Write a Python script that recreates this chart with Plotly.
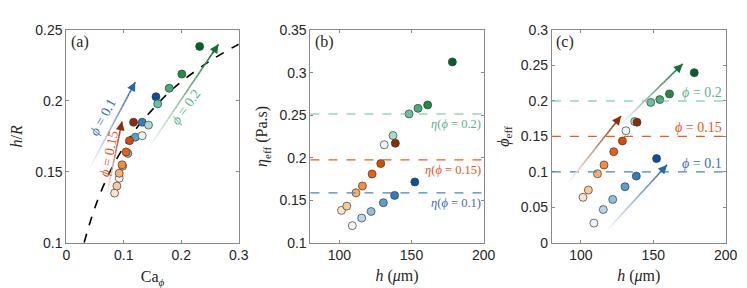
import numpy as np
import plotly.graph_objects as go

# ---------------- data ----------------
# panel (a): h/R against Ca_phi, one list per volume fraction
ca_010 = [0.092, 0.098, 0.107, 0.120, 0.132, 0.156]
hr_010 = [0.1455, 0.154, 0.163, 0.1745, 0.185, 0.203]
ca_015 = [0.084, 0.088, 0.092, 0.097, 0.104, 0.110, 0.117]
hr_015 = [0.135, 0.140, 0.149, 0.155, 0.164, 0.172, 0.185]
ca_020 = [0.132, 0.143, 0.159, 0.179, 0.201, 0.232]
hr_020 = [0.1755, 0.183, 0.198, 0.209, 0.219, 0.2385]

# dashed black curve of panel (a)
ca_fit = [0.031, 0.04, 0.05, 0.06, 0.075, 0.1, 0.125, 0.15, 0.175, 0.2, 0.25, 0.3]
hr_fit = [0.100, 0.1126, 0.125, 0.1357, 0.1493, 0.1677, 0.1823, 0.194, 0.2047, 0.2136, 0.2283, 0.2401]

# panels (b) and (c): film thickness h (um), effective viscosity, effective fraction
h_010 = [109.0, 115.5, 122.0, 130.5, 138.3, 152.3]
eta_010 = [0.120, 0.129, 0.1367, 0.147, 0.1556, 0.1714]
phi_010 = [0.0276, 0.0467, 0.061, 0.079, 0.094, 0.1187]
h_015 = [101.5, 105.2, 111.5, 116.0, 122.7, 128.7, 138.8]
eta_015 = [0.138, 0.143, 0.1586, 0.1667, 0.1808, 0.193, 0.217]
phi_015 = [0.064, 0.0743, 0.0973, 0.1097, 0.1284, 0.1436, 0.170]
h_020 = [131.1, 137.2, 148.3, 154.5, 161.2, 178.3]
eta_020 = [0.2152, 0.226, 0.2515, 0.258, 0.262, 0.3126]
phi_020 = [0.158, 0.171, 0.198, 0.202, 0.210, 0.240]

# horizontal reference levels (phi = 0.1, 0.15, 0.2)
eta_ref = [0.1586, 0.1974, 0.2514]
phi_ref = [0.1, 0.15, 0.2]
ref_names = ['0.1', '0.15', '0.2']

# arrows: (start, tip) in data units
arrows_a = [((0.0415, 0.1533), (0.120, 0.2133)),
            ((0.0703, 0.1333), (0.0969, 0.1855)),
            ((0.145, 0.168), (0.2647, 0.240))]
arrows_c = [((118.2, 0.0178), (159.5, 0.1098)),
            ((91.2, 0.0844), (127.7, 0.1787)),
            ((126.2, 0.1644), (170.3, 0.2524))]
# rotated labels of panel (a)
lab_a = [(0.0630, 0.1885), (0.0750, 0.1627), (0.2090, 0.1960)]
lab_a_angle = [-61, -78, -54]

# ---------------- styles ----------------
blues = ['#eef4fb', '#b9d6ec', '#8fc0e0', '#5a9fd0', '#2f7fbe', '#0b4f96']
oranges = ['#fee3cc', '#fdc798', '#fdae6b', '#fb8c3a', '#ee6010', '#d84a06', '#8c2d04']
greens = ['#e8f6f3', '#a6dccb', '#66c2a4', '#41ae76', '#238b45', '#00642a']
arrow_rgb = [(40, 100, 175), (140, 45, 4), (20, 110, 55)]
ref_line_col = ['#3f86d0', '#f05a14', '#5cc49a']
ref_text_col = ['#3b6db4', '#e6561a', '#5bb487']

SERIF = 'Liberation Serif, Times New Roman, serif'
SANS = 'Liberation Sans, Arial, sans-serif'
INK = '#262626'

W, H = 747, 288


def scatter(x, y, cols, xa, ya):
    return go.Scatter(x=x, y=y, mode='markers', xaxis=xa, yaxis=ya, showlegend=False,
                      marker=dict(size=8, color=cols, line=dict(color='#3a3a3a', width=0.7)))


def grad_arrow(fig, p0, p1, rgb, xr, yr, n=30):
    # shaft drawn as short segments fading from white into the colour
    xs = np.linspace(p0[0], p1[0], n + 1)
    ys = np.linspace(p0[1], p1[1], n + 1)
    for i in range(n):
        t = (i + 1) / n
        c = [int(round(255 + (v - 255) * t)) for v in rgb]
        fig.add_shape(type='line', x0=xs[i], y0=ys[i], x1=xs[i + 1], y1=ys[i + 1],
                      xref=xr, yref=yr, line=dict(color='rgb(%d,%d,%d)' % tuple(c), width=1.6))
    fig.add_annotation(x=p1[0], y=p1[1], ax=xs[-4], ay=ys[-4], xref=xr, yref=yr,
                       axref=xr, ayref=yr, text='', showarrow=True, arrowhead=2,
                       arrowsize=1.1, arrowwidth=1.6, arrowcolor='rgb(%d,%d,%d)' % rgb)


def xdom(left, right):
    return [left / W, right / W]


fig = go.Figure()

# panel (a)
fig.add_trace(go.Scatter(x=ca_fit, y=hr_fit, mode='lines', line=dict(color='black', width=1.6, dash='dash', shape='spline'),
                         showlegend=False, xaxis='x', yaxis='y'))
for arr, rgb in zip(arrows_a, arrow_rgb):
    grad_arrow(fig, arr[0], arr[1], rgb, 'x', 'y')
fig.add_trace(scatter(ca_010, hr_010, blues, 'x', 'y'))
fig.add_trace(scatter(ca_020, hr_020, greens, 'x', 'y'))
fig.add_trace(scatter(ca_015, hr_015, oranges, 'x', 'y'))
for (lx, ly), ang, name, col in zip(lab_a, lab_a_angle, ref_names, ref_text_col):
    fig.add_annotation(x=lx, y=ly, xref='x', yref='y', text='<i>ϕ</i> = ' + name, showarrow=False,
                       textangle=ang, font=dict(family=SERIF, size=14, color=col))

# panel (b)
for val, name, lc, tc in zip(eta_ref, ref_names, ref_line_col, ref_text_col):
    fig.add_shape(type='line', xref='x2 domain', yref='y2', x0=0, x1=1, y0=val, y1=val,
                  line=dict(color=lc, width=1.1, dash='dash'))
    fig.add_annotation(xref='x2 domain', yref='y2', x=0.995, y=val, xanchor='right', yanchor='top',
                       yshift=-1, text='<i>η</i>(<i>ϕ</i> = ' + name + ')', showarrow=False,
                       font=dict(family=SERIF, size=12.5, color=tc))
fig.add_trace(scatter(h_010, eta_010, blues, 'x2', 'y2'))
fig.add_trace(scatter(h_020, eta_020, greens, 'x2', 'y2'))
fig.add_trace(scatter(h_015, eta_015, oranges, 'x2', 'y2'))

# panel (c)
for val, name, lc, tc in zip(phi_ref, ref_names, ref_line_col, ref_text_col):
    fig.add_shape(type='line', xref='x3 domain', yref='y3', x0=0, x1=1, y0=val, y1=val,
                  line=dict(color=lc, width=1.1, dash='dash'))
    fig.add_annotation(xref='x3 domain', yref='y3', x=0.99, y=val, xanchor='right', yanchor='bottom',
                       yshift=-1, text='<i>ϕ</i> = ' + name, showarrow=False,
                       font=dict(family=SERIF, size=14, color=tc))
for arr, rgb in zip(arrows_c, arrow_rgb):
    grad_arrow(fig, arr[0], arr[1], rgb, 'x3', 'y3')
fig.add_trace(scatter(h_010, phi_010, blues, 'x3', 'y3'))
fig.add_trace(scatter(h_020, phi_020, greens, 'x3', 'y3'))
fig.add_trace(scatter(h_015, phi_015, oranges, 'x3', 'y3'))

# panel letters
for ax, letter in zip(['x', 'x2', 'x3'], ['(a)', '(b)', '(c)']):
    yname = 'y' + ax[1:]
    fig.add_annotation(xref=ax + ' domain', yref=yname + ' domain', x=0.015, y=0.995, xanchor='left',
                       yanchor='top', text=letter, showarrow=False, font=dict(family=SERIF, size=16, color=INK))

axis_common = dict(showline=True, linecolor='#8a8a8a', linewidth=1, mirror='ticks', ticks='inside',
                   ticklen=3, tickcolor='#8a8a8a', showgrid=False, zeroline=False,
                   tickfont=dict(family=SANS, size=14, color=INK))
title_font = dict(family=SERIF, size=16, color=INK)

ydom = [1 - 240 / H, 1 - 15 / H]
fig.update_layout(
    width=W, height=H,
    margin=dict(l=0, r=0, t=0, b=0),
    paper_bgcolor='white', plot_bgcolor='white',
    xaxis=dict(axis_common, domain=xdom(55.5, 231.7), range=[0, 0.3], dtick=0.1, anchor='y',
               title=dict(text='Ca<sub><i>ϕ</i></sub>', font=title_font, standoff=8)),
    yaxis=dict(axis_common, domain=ydom, range=[0.1, 0.25], dtick=0.05, anchor='x',
               title=dict(text='<i>h</i>/<i>R</i>', font=title_font, standoff=8)),
    xaxis2=dict(axis_common, domain=xdom(305, 482), range=[80, 200], tick0=0, dtick=50, anchor='y2',
                title=dict(text='<i>h</i> (<i>μ</i>m)', font=title_font, standoff=7)),
    yaxis2=dict(axis_common, domain=ydom, range=[0.1, 0.35], dtick=0.05, anchor='x2',
                title=dict(text='<i>η</i><sub>eff</sub> (Pa.s)', font=title_font, standoff=7)),
    xaxis3=dict(axis_common, domain=xdom(551.7, 729.3), range=[80, 200], tick0=0, dtick=50, anchor='y3',
                title=dict(text='<i>h</i> (<i>μ</i>m)', font=title_font, standoff=7)),
    yaxis3=dict(axis_common, domain=ydom, range=[0, 0.3], dtick=0.05, anchor='x3',
                title=dict(text='<i>ϕ</i><sub>eff</sub>', font=title_font, standoff=7)),
)

fig.write_html("out.html")
